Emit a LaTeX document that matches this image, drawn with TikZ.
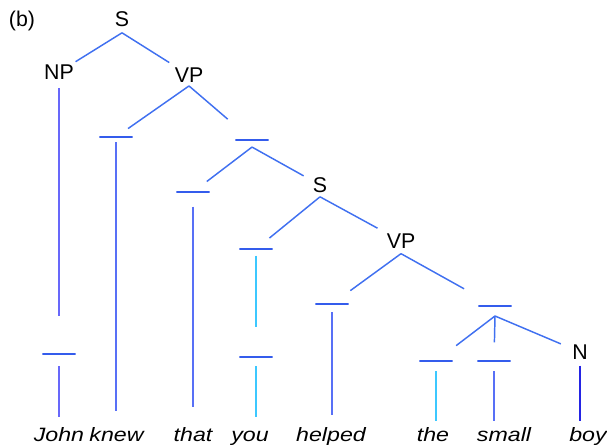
\documentclass[tikz,border=0pt]{standalone}
\usepackage{fontspec}
\setmainfont{Liberation Sans}
\newfontfamily\wordfont[FakeStretch=1.2]{Liberation Sans}

\definecolor{treeblue}{RGB}{64,112,240}
\definecolor{barblue}{RGB}{52,92,236}
\definecolor{stemblue}{RGB}{88,112,246}
\definecolor{stemviolet}{RGB}{104,104,250}
\definecolor{stemcyan}{RGB}{60,200,255}
\definecolor{stemdark}{RGB}{36,36,228}

\tikzset{
  cat/.style={font=\fontsize{16}{19}\selectfont, inner sep=1.5pt},
  word/.style={font=\wordfont\itshape\fontsize{14.5}{17}\selectfont, anchor=base, inner sep=1pt, text height=11pt, text depth=3pt},
  bar/.style={draw=barblue, line width=1.1pt, minimum width=25pt, minimum height=0pt, inner sep=0pt, outer sep=0pt},
  branch/.style={draw=treeblue, line width=1.1pt},
  stem/.style={draw=stemblue, line width=1.1pt},
}

\begin{document}
\begin{tikzpicture}[x=0.75pt,y=-0.75pt]
\useasboundingbox (0,0) rectangle (607,446);

\node[cat] (tag) at (22,21) {(b)};

% category labels
\node[cat] (S0) at (122,19) {S};
\node[cat] (NP) at (59,72) {NP};
\node[cat] (VP0) at (189,75) {VP};
\node[cat] (S1) at (320,185) {S};
\node[cat] (VP1) at (401,241) {VP};
\node[cat] (N) at (580,352) {N};

% bars
\node[bar] (jb) at (59,354) {};
\node[bar] (kb) at (116,137) {};
\node[bar] (bb) at (252,140) {};
\node[bar] (tb) at (193,192) {};
\node[bar] (yb1) at (256,249) {};
\node[bar] (yb2) at (256,357) {};
\node[bar] (hb) at (332,304) {};
\node[bar] (gb) at (495,306) {};
\node[bar] (thb) at (436,361) {};
\node[bar] (smb) at (494,361) {};

% words
\node[word] (john) at (59,441) {John};
\node[word] (knew) at (116.5,441) {knew};
\node[word] (that) at (193,441) {that};
\node[word] (you) at (250,441) {you};
\node[word] (helped) at (331,441) {helped};
\node[word] (the) at (433,441) {the};
\node[word] (small) at (504,441) {small};
\node[word] (boy) at (588,441) {boy};

% apexes
\coordinate (s0a) at ([yshift=-3pt]S0.south);
\coordinate (vp0a) at ([yshift=-1pt]VP0.south);
\coordinate (bba) at ([yshift=-5.3pt]bb.center);
\coordinate (s1a) at ([yshift=-1.5pt]S1.south);
\coordinate (vp1a) at ([yshift=-2.3pt]VP1.south);
\coordinate (gba) at ([yshift=-7.5pt]gb.center);

% branches
\draw[branch, shorten >=1pt] (s0a) -- (NP);
\draw[branch, shorten >=4pt] (s0a) -- (VP0);
\draw[branch, shorten >=11pt] (vp0a) -- (kb.center);
\draw[branch, shorten >=24pt] (vp0a) -- (bb.center);
\draw[branch, shorten >=13pt] (bba) -- (tb.center);
\draw[branch, shorten >=6pt] (bba) -- (S1);
\draw[branch, shorten >=13pt] (s1a) -- (yb1.center);
\draw[branch, shorten >=6pt] (s1a) -- (VP1);
\draw[branch, shorten >=17pt] (vp1a) -- (hb.center);
\draw[branch, shorten >=26.5pt] (vp1a) -- (gb.center);
\draw[branch, shorten >=19pt] (gba) -- (thb.center);
\draw[branch, shorten >=14pt] (gba) -- (smb.center);
\draw[branch, shorten >=7.5pt] (gba) -- (N);

% stems
\draw[stem, stemviolet, shorten <=5pt, shorten >=28.5pt] (NP) -- (jb.center);
\draw[stem, stemviolet, shorten <=9pt, shorten >=6pt] (jb.center) -- (jb.center |- john.north);
\draw[stem, shorten <=4pt, shorten >=10.5pt] (kb.center) -- (kb.center |- knew.north);
\draw[stem, shorten <=11pt, shorten >=13.5pt] (tb.center) -- (tb.center |- that.north);
\draw[stem, stemcyan, shorten <=5pt, shorten >=22.5pt] (yb1.center) -- (yb2.center);
\draw[stem, stemcyan, shorten <=7pt, shorten >=6pt] (yb2.center) -- (yb2.center |- you.north);
\draw[stem, shorten <=6pt, shorten >=7pt] (hb.center) -- (hb.center |- helped.north);
\draw[stem, stemcyan, shorten <=7.5pt, shorten >=3pt] (thb.center) -- (thb.center |- the.north);
\draw[stem, shorten <=7.5pt, shorten >=3pt] (smb.center) -- (smb.center |- small.north);
\draw[stem, stemdark, shorten <=3pt, shorten >=3pt] (N) -- (N |- boy.north);

\end{tikzpicture}
\end{document}
